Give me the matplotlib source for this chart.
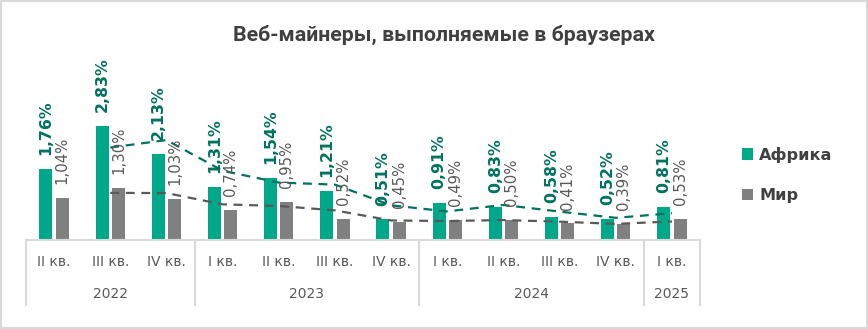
import numpy as np
import pandas as pd
import matplotlib
matplotlib.use('Agg')
from matplotlib import pyplot as plt
from matplotlib.patches import Rectangle

plt.rcParams['font.family'] = ['DejaVu Sans']

# данные
quarters = ['II кв.', 'III кв.', 'IV кв.', 'I кв.', 'II кв.', 'III кв.', 'IV кв.',
            'I кв.', 'II кв.', 'III кв.', 'IV кв.', 'I кв.']
years = ['2022', '2023', '2024', '2025']
year_counts = [3, 4, 4, 1]
africa = [1.76, 2.83, 2.13, 1.31, 1.54, 1.21, 0.51, 0.91, 0.83, 0.58, 0.52, 0.81]
world = [1.04, 1.30, 1.03, 0.74, 0.95, 0.52, 0.45, 0.49, 0.50, 0.41, 0.39, 0.53]

c_africa = '#00A88A'
c_world = '#808080'
c_af_txt = '#00735F'
c_txt = '#595959'

W, H = 868, 329
fig = plt.figure(figsize=(W / 100, H / 100), dpi=100)
fig.patches.append(Rectangle((0, 0), 1, 1, transform=fig.transFigure,
                             fill=False, ec='#D9D9D9', lw=3))

ax = fig.add_axes([26 / W, (H - 240) / H, 674 / W, 195 / H])
x = np.arange(len(africa))
bw = 0.23
ax.bar(x - 0.145, africa, bw, color=c_africa, label='Африка', zorder=2)
ax.bar(x + 0.145, world, bw, color=c_world, label='Мир', zorder=2)

# скользящее среднее (2 периода)
af_ma = pd.Series(africa).rolling(2).mean()
w_ma = pd.Series(world).rolling(2).mean()
ax.plot(x, af_ma, color=c_af_txt, lw=1.6, ls=(0, (4, 3)), zorder=3)
ax.plot(x, w_ma, color='#595959', lw=1.6, ls=(0, (4, 3)), zorder=3)

for i in range(len(x)):
    ax.annotate(f'{africa[i]:.2f}%'.replace('.', ','), (x[i] - 0.145, africa[i]),
                xytext=(0, 10), textcoords='offset points', rotation=90,
                ha='center', va='bottom', fontsize=11.3, fontweight='bold',
                color=c_af_txt, zorder=4)
    ax.annotate(f'{world[i]:.2f}%'.replace('.', ','), (x[i] + 0.145, world[i]),
                xytext=(0, 10), textcoords='offset points', rotation=90,
                ha='center', va='bottom', fontsize=10.7, color=c_txt, zorder=4)

ax.set_xlim(-0.5, len(x) - 0.5)
ax.set_ylim(0, 4.84)
for s in ax.spines.values():
    s.set_visible(False)
ax.set_xticks([])
ax.set_yticks([])

tr = ax.get_xaxis_transform()
ax.plot([-0.5, len(x) - 0.5], [0, 0], color='#D9D9D9', lw=1.5, transform=tr, clip_on=False)
for i, q in enumerate(quarters):
    ax.text(i, -0.113, q, transform=tr, ha='center', va='center', fontsize=10, color=c_txt)

start = 0
bounds = [-0.5]
for yname, n in zip(years, year_counts):
    ax.text(start + (n - 1) / 2, -0.277, yname, transform=tr, ha='center', va='center',
            fontsize=10, color=c_txt)
    start += n
    bounds.append(start - 0.5)
for b in bounds:
    ax.plot([b, b], [0, -0.333], color='#D9D9D9', lw=1.5, transform=tr, clip_on=False)

fig.text(444 / W, 1 - 35 / H, 'Веб-майнеры, выполняемые в браузерах',
         ha='center', va='center', fontsize=15.4, fontweight='bold', color='#404040',
         family=['Roboto', 'DejaVu Sans'])

leg = fig.legend(loc='center left', bbox_to_anchor=(727 / W, 1 - 175 / H), frameon=False,
                 handlelength=0.7, handleheight=0.7, handletextpad=0.4, labelspacing=1.6,
                 prop={'size': 11.6, 'weight': 'bold'})
for t in leg.get_texts():
    t.set_color('#404040')

fig.savefig('out.png', dpi=100)
